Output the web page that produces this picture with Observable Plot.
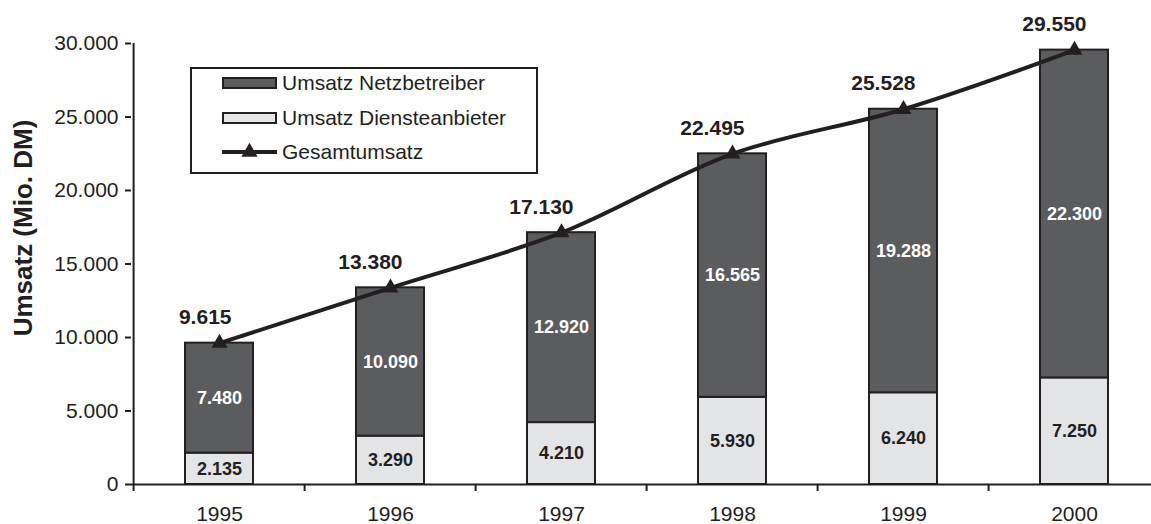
<!DOCTYPE html>
<html>
<head>
<meta charset="utf-8">
<script src="https://cdn.jsdelivr.net/npm/d3@7"></script>
<script src="https://cdn.jsdelivr.net/npm/@observablehq/plot@0.6"></script>
<style>
  body { margin: 0; background: #fff; font-family: "Liberation Sans", Arial, sans-serif; color: #231f20; }
  #wrap { position: relative; width: 1151px; height: 524px; overflow: hidden; }
  #legend { position: absolute; left: 190px; top: 67px; width: 348px; height: 107px; box-sizing: border-box;
            border: 2px solid #231f20; background: #fff; }
  .sw { position: absolute; left: 30px; width: 55px; height: 12px; box-sizing: border-box; border: 2px solid #231f20; }
  .lt { position: absolute; left: 90px; height: 24px; line-height: 24px; font-size: 21px; white-space: nowrap; }
</style>
</head>
<body>
<div id="wrap"></div>
<script>
const years = ["1995", "1996", "1997", "1998", "1999", "2000"];
const diensteanbieter = [2135, 3290, 4210, 5930, 6240, 7250];
const netzbetreiber = [7480, 10090, 12920, 16565, 19288, 22300];
const gesamt = [9615, 13380, 17130, 22495, 25528, 29550];
const seriesNames = ["Umsatz Diensteanbieter", "Umsatz Netzbetreiber"];
const lineName = "Gesamtumsatz";
const yTicks = [0, 5000, 10000, 15000, 20000, 25000, 30000];
const yLabel = "Umsatz (Mio. DM)";

const DARK = "#5b5c5e", LIGHT = "#e3e4e5", INK = "#231f20";
const fmt = d3.formatLocale({decimal: ",", thousands: ".", grouping: [3], currency: ["", " DM"]}).format(",d");

const rows = [];
years.forEach((y, i) => {
  rows.push({year: y, series: seriesNames[0], value: diensteanbieter[i], mid: diensteanbieter[i] / 2});
  rows.push({year: y, series: seriesNames[1], value: netzbetreiber[i], mid: diensteanbieter[i] + netzbetreiber[i] / 2});
});
const totals = years.map((y, i) => ({year: y, value: gesamt[i]}));

const X0 = 131.25, X1 = 1162;
const step = (X1 - X0) / years.length;

const chart = Plot.plot({
  width: 1151, height: 524,
  marginLeft: 131, marginRight: 0, marginTop: 43, marginBottom: 40,
  style: {fontFamily: "'Liberation Sans', Arial, sans-serif", color: INK, background: "#fff", overflow: "visible"},
  x: {type: "band", domain: years, range: [X0, X1], paddingInner: 0.6, paddingOuter: 0.3},
  y: {domain: [0, 30000]},
  color: {domain: seriesNames, range: [LIGHT, DARK]},
  marks: [
    Plot.barY(rows, {x: "year", y: "value", fill: "series", stroke: INK, strokeWidth: 2}),
    Plot.text(rows.filter(d => d.series === seriesNames[0]), {x: "year", y: "mid", text: d => fmt(d.value), fill: INK, fontWeight: "bold", fontSize: 18}),
    Plot.text(rows.filter(d => d.series === seriesNames[1]), {x: "year", y: "mid", text: d => fmt(d.value), fill: "#fff", fontWeight: "bold", fontSize: 18}),
    Plot.ruleY([0], {stroke: INK, strokeWidth: 2}),
    Plot.ruleX(years, {x: d => d, y1: 0, y2: 0, insetBottom: -7, dx: -step / 2, stroke: INK, strokeWidth: 2}),
    Plot.ruleX([years[0]], {x: d => d, y1: 0, y2: 30000, dx: -step / 2, stroke: INK, strokeWidth: 2}),
    Plot.axisY(yTicks, {tickSize: 6, tickPadding: 7, fontSize: 21, tickFormat: fmt, label: null, stroke: INK, strokeWidth: 2, fill: INK}),
    Plot.axisX({tickSize: 0, tickPadding: 22, fontSize: 21, label: null, fill: INK}),
    Plot.line(totals, {x: "year", y: "value", curve: "catmull-rom", stroke: INK, strokeWidth: 4}),
    Plot.dot(totals, {x: "year", y: "value", symbol: "triangle", r: 6, fill: INK, stroke: "none"}),
    Plot.text(totals, {x: "year", y: "value", text: d => fmt(d.value), textAnchor: "end", lineAnchor: "bottom", dx: 12, dy: -19, fontWeight: "bold", fontSize: 21, fill: INK}),
    Plot.text([yLabel], {frameAnchor: "left", textAnchor: "middle", lineAnchor: "middle", rotate: -90, dx: -108, dy: -36, fontSize: 26, fontWeight: "bold", fill: INK})
  ]
});

const wrap = document.getElementById("wrap");
wrap.appendChild(chart);

// legend overlay
const legend = document.createElement("div");
legend.id = "legend";
const items = [
  {name: seriesNames[1], kind: "bar", color: DARK, cy: 14},
  {name: seriesNames[0], kind: "bar", color: LIGHT, cy: 49},
  {name: lineName, kind: "line", cy: 83}
];
items.forEach(it => {
  if (it.kind === "bar") {
    const s = document.createElement("div");
    s.className = "sw";
    s.style.top = (it.cy - 6) + "px";
    s.style.background = it.color;
    legend.appendChild(s);
  } else {
    const svg = d3.create("svg").attr("width", 56).attr("height", 20)
      .style("position", "absolute").style("left", "30px").style("top", (it.cy - 10) + "px");
    svg.append("line").attr("x1", 0).attr("x2", 55).attr("y1", 10).attr("y2", 10).attr("stroke", INK).attr("stroke-width", 4);
    svg.append("path").attr("transform", "translate(27.5,10)").attr("d", d3.symbol(d3.symbolTriangle, 113)()).attr("fill", INK);
    legend.appendChild(svg.node());
  }
  const t = document.createElement("div");
  t.className = "lt";
  t.style.top = (it.cy - 12) + "px";
  t.textContent = it.name;
  legend.appendChild(t);
});
wrap.appendChild(legend);
</script>
</body>
</html>
